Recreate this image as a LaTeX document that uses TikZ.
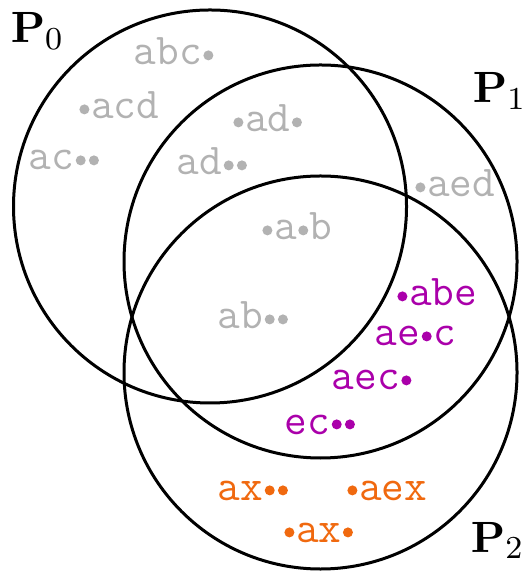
\documentclass[tikz,border=0pt]{standalone}
\definecolor{lgray}{RGB}{178,178,178}
\definecolor{purp}{RGB}{170,0,170}
\definecolor{orng}{RGB}{240,105,15}
\newcommand\mydot[1]{\tikz[baseline=0pt]{\path[use as bounding box] (-1.65pt,0pt) rectangle (1.65pt,1pt); \fill[#1] (0pt,2.4pt) circle (1.25pt);}}
\newcommand\gd{\mydot{lgray}}
\newcommand\pd{\mydot{purp}}
\newcommand\od{\mydot{orng}}
\tikzset{
  setc/.style={draw=black, line width=0.75pt},
  lbl/.style={anchor=base west, inner sep=0pt, font=\fontsize{11}{13}\selectfont\ttfamily},
  glbl/.style={lbl, text=lgray},
  plbl/.style={lbl, text=purp},
  olbl/.style={lbl, text=orng},
  plab/.style={anchor=base west, inner sep=0pt, font=\fontsize{11}{13}\selectfont},
}
\begin{document}
\begin{tikzpicture}[x=0.25pt,y=-0.25pt]
\useasboundingbox (0,0) rectangle (528,573);
\draw[setc] (210,206.5) circle (196.5);
\draw[setc] (320.5,261.5) circle (196.5);
\draw[setc] (320.5,372.5) circle (196.5);
\node[plab] (p0) at (10,43) {$\mathbf{P}_0$};
\node[plab] (p1) at (472,103) {$\mathbf{P}_1$};
\node[plab] (p2) at (470,552) {$\mathbf{P}_2$};
\node[glbl] (l1) at (133,65) {abc\gd};
\node[glbl] (l2) at (77,119) {\gd acd};
\node[glbl] (l3) at (28,170) {ac\gd\gd};
\node[glbl] (l4) at (231,132) {\gd ad\gd};
\node[glbl] (l5) at (176,175) {ad\gd\gd};
\node[glbl] (l6) at (260,240) {\gd a\gd b};
\node[glbl] (l7) at (217,329) {ab\gd\gd};
\node[glbl] (l8) at (413,197) {\gd aed};
\node[plbl] (m1) at (395,306) {\pd abe};
\node[plbl] (m2) at (374,346) {ae\pd c};
\node[plbl] (m3) at (331,390) {aec\pd};
\node[plbl] (m4) at (284,434) {ec\pd\pd};
\node[olbl] (o1) at (217,500) {ax\od\od};
\node[olbl] (o2) at (345,500) {\od aex};
\node[olbl] (o3) at (282,542) {\od ax\od};
\end{tikzpicture}
\end{document}
